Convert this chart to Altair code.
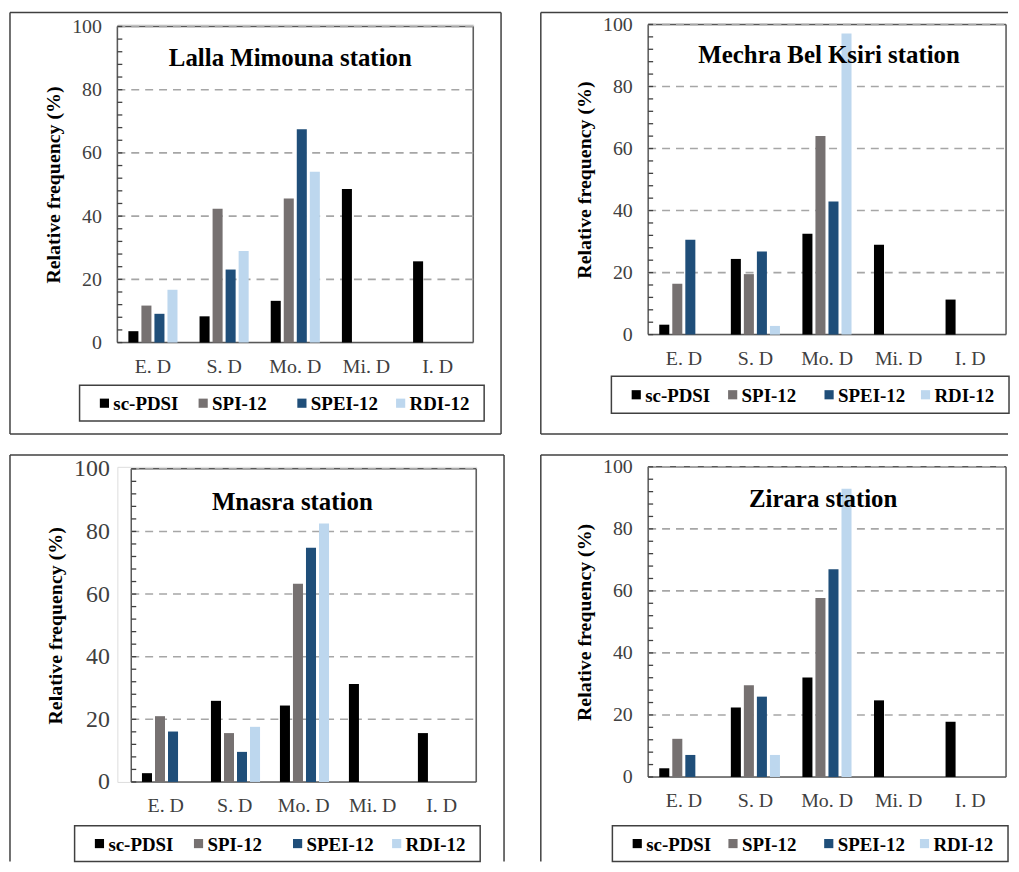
import altair as alt
import pandas as pd

categories = ["E. D", "S. D", "Mo. D", "Mi. D", "I. D"]
series = ["sc-PDSI", "SPI-12", "SPEI-12", "RDI-12"]
colors = ["#000000", "#767171", "#1F4E79", "#BDD7EE"]

stations = ["Lalla Mimouna station", "Mechra Bel Ksiri station", "Mnasra station", "Zirara station"]

lalla_sc = [3.6, 8.3, 13.2, 48.6, 25.7]
lalla_spi = [11.7, 42.3, 45.6, 0, 0]
lalla_spei = [9.1, 23.1, 67.5, 0, 0]
lalla_rdi = [16.7, 29.0, 54.0, 0, 0]

mechra_sc = [3.2, 24.4, 32.5, 29.0, 11.3]
mechra_spi = [16.4, 19.5, 64.0, 0, 0]
mechra_spei = [30.6, 26.8, 42.9, 0, 0]
mechra_rdi = [0, 2.8, 97.1, 0, 0]

mnasra_sc = [2.8, 25.9, 24.4, 31.3, 15.6]
mnasra_spi = [21.0, 15.6, 63.3, 0, 0]
mnasra_spei = [16.1, 9.6, 74.8, 0, 0]
mnasra_rdi = [0, 17.6, 82.5, 0, 0]

zirara_sc = [2.8, 22.4, 32.1, 24.7, 17.8]
zirara_spi = [12.3, 29.6, 57.7, 0, 0]
zirara_spei = [7.1, 25.9, 67.0, 0, 0]
zirara_rdi = [0, 7.1, 92.9, 0, 0]

y_ticks = [0, 20, 40, 60, 80, 100]
grid_ticks = [20, 40, 60, 80, 100]
minor_ticks = list(range(0, 101, 4))

FONT = "Liberation Serif"
FRAME = "#404040"
BORDER = "#595959"


def make_df(sc, spi, spei, rdi):
    rows = []
    for s, vals in zip(series, [sc, spi, spei, rdi]):
        for c, v in zip(categories, vals):
            rows.append({"category": c, "series": s, "value": v})
    return pd.DataFrame(rows)


def panel(title, df, W, H, x0, y0, frame, sides, leg, ylab_size, ylab_pad, title_xy):
    one = pd.DataFrame({"k": [0]})
    minor_df = pd.DataFrame({"value": minor_ticks})
    grid_df = pd.DataFrame({"value": grid_ticks})
    leg_df = pd.DataFrame({"series": series})
    L, T, R, B = frame
    lx, ly, lw, lh = leg
    yscale = alt.Scale(domain=[0, 100], range=[y0 + H, y0], nice=False)
    cscale = alt.Scale(domain=series, range=colors)
    y_axis = alt.Axis(orient="left", values=y_ticks, title="Relative frequency (%)",
                      titleFont=FONT, titleFontSize=20, titleFontWeight="bold",
                      titleColor="#000000", titlePadding=8,
                      labelFont=FONT, labelFontSize=ylab_size, labelColor="#404040",
                      labelPadding=ylab_pad, ticks=False, tickSize=0, domain=False,
                      grid=False)

    border = [
        alt.Chart(one).mark_rule(color=BORDER, strokeWidth=1.5).encode(
            x=alt.value(x0), x2=alt.value(x0 + W), y=alt.value(y0 + H)),
        alt.Chart(one).mark_rule(color=BORDER, strokeWidth=1.5).encode(
            x=alt.value(x0), x2=alt.value(x0 + W), y=alt.value(y0)),
        alt.Chart(one).mark_rule(color=BORDER, strokeWidth=1.5).encode(
            x=alt.value(x0), y=alt.value(y0), y2=alt.value(y0 + H)),
        alt.Chart(one).mark_rule(color=BORDER, strokeWidth=1.5).encode(
            x=alt.value(x0 + W), y=alt.value(y0), y2=alt.value(y0 + H)),
    ]
    grid = alt.Chart(grid_df).mark_rule(color="#A6A6A6", strokeWidth=1.6,
                                        strokeDash=[8, 6]).encode(
        x=alt.value(x0), x2=alt.value(x0 + W),
        y=alt.Y("value:Q", scale=yscale, axis=y_axis),
    )
    bars = alt.Chart(df).mark_bar().encode(
        x=alt.X("category:N", sort=categories,
                scale=alt.Scale(domain=categories, range=[x0, x0 + W],
                                paddingInner=0.31, paddingOuter=0.155),
                axis=alt.Axis(title=None, labelAngle=0, ticks=False, tickSize=0, domain=False,
                              grid=False, labelFont=FONT, labelFontSize=20,
                              labelColor="#404040", labelPadding=14)),
        xOffset=alt.XOffset("series:N", sort=series, scale=alt.Scale(paddingInner=0.23)),
        y=alt.Y("value:Q", scale=yscale, axis=y_axis),
        color=alt.Color("series:N", sort=series, scale=cscale, legend=None),
    )
    minor = alt.Chart(minor_df).mark_rule(color=FRAME, strokeWidth=1.3).encode(
        x=alt.value(x0),
        x2=alt.value(x0 + 5),
        y=alt.Y("value:Q", scale=yscale, axis=y_axis),
    )
    ttl = alt.Chart(one).mark_text(font=FONT, fontSize=25, fontWeight="bold",
                                   color="#000000").encode(
        x=alt.value(title_xy[0]), y=alt.value(title_xy[1]), text=alt.value(title))

    # legend drawn from the series list
    lscale = alt.Scale(type="point", domain=series, range=[lx + 25, lx + lw - 84], padding=0)
    leg_box = alt.Chart(one).mark_rect(fill="transparent", stroke=FRAME, strokeWidth=1.5).encode(
        x=alt.value(lx), x2=alt.value(lx + lw), y=alt.value(ly), y2=alt.value(ly + lh))
    leg_sym = alt.Chart(leg_df).mark_square(size=85, opacity=1).encode(
        x=alt.X("series:N", sort=series, scale=lscale, axis=None),
        y=alt.value(ly + lh / 2),
        color=alt.Color("series:N", sort=series, scale=cscale, legend=None),
    )
    leg_txt = alt.Chart(leg_df).mark_text(align="left", baseline="middle", dx=9, font=FONT,
                                          fontSize=19, fontWeight="bold",
                                          color="#000000").encode(
        x=alt.X("series:N", sort=series, scale=lscale, axis=None),
        y=alt.value(ly + lh / 2 + 1),
        text="series:N",
    )

    layers = border + [grid, bars, minor, ttl, leg_box, leg_sym, leg_txt]
    rule_specs = {
        "top": dict(x=alt.value(L), x2=alt.value(R), y=alt.value(T)),
        "bottom": dict(x=alt.value(L), x2=alt.value(R), y=alt.value(B)),
        "left": dict(x=alt.value(L), y=alt.value(T), y2=alt.value(B)),
        "right": dict(x=alt.value(R), y=alt.value(T), y2=alt.value(B)),
    }
    for s in sides:
        layers.append(alt.Chart(one).mark_rule(color=FRAME, strokeWidth=1.5).encode(**rule_specs[s]))
    return alt.layer(*layers).resolve_scale(x="independent").properties(
        width=x0 + W, height=y0 + H)


p1 = panel(stations[0], make_df(lalla_sc, lalla_spi, lalla_spei, lalla_rdi),
           358, 318, 0, 2, (-108, -12, 386, 412), ["top", "bottom", "left", "right"],
           (-38, 363, 407, 36), 20, 16, (174, 34))
p2 = panel(stations[1], make_df(mechra_sc, mechra_spi, mechra_spei, mechra_rdi),
           360, 312, 0, 0, (-108, -12, 362, 412), ["top", "bottom", "left"],
           (-37, 354, 400, 37), 20, 16, (182, 31))
p3 = panel(stations[2], make_df(mnasra_sc, mnasra_spi, mnasra_spei, mnasra_rdi),
           347, 315, 14, 2, (-108, -12, 389, 397), ["top", "left", "right"],
           (-43, 361, 408, 36), 24, 8, (176, 35))
p4 = panel(stations[3], make_df(zirara_sc, zirara_spi, zirara_spei, zirara_rdi),
           360, 312, 0, 0, (-108, -12, 362, 397), ["top", "left"],
           (-36, 361, 398, 36), 20, 16, (176, 32))

chart = alt.concat(p1, p2, p3, p4, columns=2, align="none",
                   spacing={"row": 17, "column": 33}).properties(
    padding={"left": 0, "top": 0, "right": 0, "bottom": 0}
).configure_view(stroke="transparent").configure(background="white", font=FONT)

chart.save("out.html", embed_options={"renderer": "svg", "actions": False})
